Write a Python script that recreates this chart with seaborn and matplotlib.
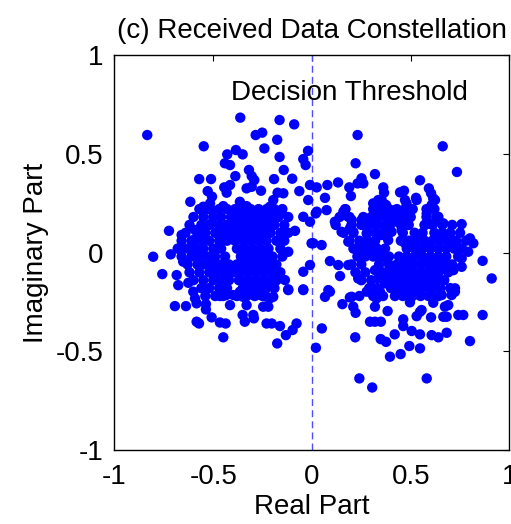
import matplotlib
matplotlib.use("Agg")
import matplotlib.pyplot as plt
import seaborn as sns
import pandas as pd

# ---- scattered / outline samples (real, imag) ----
outline_re = [
    -0.834, -0.363, -0.164, -0.090, -0.285, -0.252, -0.548, -0.176, -0.241, -0.385,
    -0.351, -0.429, -0.020, -0.164, -0.044, -0.032, -0.441, -0.415, -0.319, -0.143,
    -0.388, -0.305, -0.292, -0.571, -0.511, -0.192, -0.100, -0.010, -0.444, -0.415,
    -0.432, -0.528, -0.506, -0.331, -0.305, -0.258, -0.174, -0.145, -0.064, -0.616,
    -0.550, -0.516, -0.449, -0.365, -0.331, -0.196, -0.213, -0.019, -0.542, -0.508,
    -0.724, -0.660, -0.592, -0.601, -0.804, -0.715, -0.668, -0.652, -0.758, -0.685,
    -0.677, -0.626, -0.601, -0.508, -0.086, -0.044, -0.010, -0.153, -0.002, -0.120,
    -0.044, -0.010, -0.044, -0.120, -0.179, -0.137, -0.694, -0.638, -0.592, -0.584,
    -0.537, -0.537, -0.584, -0.572, -0.508, -0.466, -0.437, -0.449, -0.466, -0.434,
    -0.415, -0.398, -0.365, -0.331, -0.349, -0.351, -0.340, -0.297, -0.294, -0.280,
    -0.255, -0.230, -0.213, -0.196, -0.247, -0.221, -0.230, -0.204, -0.162, -0.078,
    -0.098, -0.132, -0.176, -0.120, -0.044,
    0.024, 0.019, 0.231, 0.662, 0.221, 0.734, 0.319, 0.251, 0.260, 0.231,
    0.547, 0.132, 0.078, 0.189, 0.197, 0.361, 0.365, 0.446, 0.466, 0.471,
    0.592, 0.603, 0.614, 0.527, 0.066, 0.336, 0.375, 0.344, 0.167, 0.074,
    0.024, 0.159, 0.184, 0.201, 0.116, 0.150, 0.192, 0.209, 0.251, 0.294,
    0.310, 0.353, 0.344, 0.378, 0.403, 0.420, 0.454, 0.479, 0.488, 0.530,
    0.446, 0.479, 0.454, 0.581, 0.606, 0.623, 0.640, 0.665, 0.758, 0.572,
    0.614, 0.555, 0.572, 0.657, 0.699, 0.716, 0.733, 0.800, 0.817, 0.791,
    0.758, 0.864, 0.910, 0.758, 0.716, 0.665, 0.631, 0.614, 0.648, 0.572,
    0.547, 0.513, 0.471, 0.462, 0.496, 0.437, 0.446, 0.479, 0.429, 0.513,
    0.547, 0.589, 0.640, 0.631, 0.353, 0.386, 0.403, 0.277, 0.285, 0.243,
    0.251, 0.294, 0.327, 0.378, 0.184, 0.007, 0.049, 0.091, 0.133, 0.184,
    0.142, 0.234, 0.319, 0.336, 0.353, 0.370, 0.302, 0.344, 0.327, 0.395,
    0.437, 0.479, 0.530, 0.496, 0.606, 0.657, 0.724, 0.277, 0.083, 0.066,
    0.201, 0.020, 0.050, 0.091, 0.154, 0.192, 0.209, 0.221, 0.319, 0.341,
    0.294, 0.319, 0.349, 0.383, 0.219, 0.348, 0.375, 0.419, 0.395, 0.449,
    0.462, 0.462, 0.493, 0.547, 0.505, 0.547, 0.606, 0.640, 0.682, 0.496,
    0.513, 0.538, 0.530, 0.547, 0.555, 0.603, 0.603, 0.614, 0.707, 0.724,
    0.673, 0.690, 0.665, 0.682, 0.741, 0.766, 0.864, 0.800, 0.240, 0.305,
    0.581,
]
outline_im = [
    0.595, 0.683, 0.671, 0.649, 0.595, 0.607, 0.538, 0.571, 0.527, 0.519,
    0.497, 0.497, 0.515, 0.484, 0.473, 0.443, 0.452, 0.443, 0.418, 0.418,
    0.387, 0.387, 0.367, 0.372, 0.372, 0.372, 0.374, 0.342, 0.330, 0.342,
    0.303, 0.311, 0.283, 0.325, 0.333, 0.313, 0.303, 0.300, 0.311, 0.257,
    0.232, 0.249, 0.235, 0.257, 0.235, 0.266, 0.232, 0.266, 0.224, 0.215,
    0.110, 0.089, 0.114, 0.063, -0.021, -0.009, 0.021, -0.046, -0.109, -0.114,
    -0.165, -0.153, -0.198, 0.148, 0.110, 0.181, 0.156, 0.198, 0.047, 0.004,
    -0.097, -0.063, -0.186, -0.186, -0.139, -0.139, -0.271, -0.271, -0.232, -0.257,
    -0.261, -0.288, -0.350, -0.359, -0.328, -0.354, -0.359, -0.429, -0.220, -0.215,
    -0.266, -0.215, -0.198, -0.266, -0.224, -0.316, -0.350, -0.316, -0.333, -0.215,
    -0.190, -0.224, -0.232, -0.224, -0.274, -0.274, -0.359, -0.359, -0.372, -0.359,
    -0.392, -0.418, -0.460, -0.190, -0.190,
    0.330, 0.198, 0.595, 0.538, 0.452, 0.408, 0.397, 0.376, 0.350, 0.350,
    0.366, 0.355, 0.342, 0.330, 0.286, 0.330, 0.303, 0.305, 0.313, 0.266,
    0.325, 0.300, 0.274, 0.277, 0.277, 0.266, 0.241, 0.232, 0.219, 0.215,
    0.207, 0.207, 0.181, 0.165, 0.156, 0.105, 0.122, 0.105, 0.165, 0.173,
    0.249, 0.266, 0.190, 0.181, 0.148, 0.215, 0.198, 0.249, 0.190, 0.266,
    0.165, 0.139, 0.114, 0.198, 0.241, 0.266, 0.181, 0.148, 0.144, 0.139,
    0.148, 0.089, 0.055, 0.080, 0.097, 0.055, 0.038, 0.072, 0.047, 0.004,
    -0.029, -0.042, -0.131, -0.072, -0.089, -0.038, -0.029, -0.072, -0.089, -0.038,
    0.004, 0.047, 0.047, -0.038, -0.055, -0.072, -0.097, -0.114, -0.139, -0.105,
    -0.114, -0.122, -0.131, -0.173, 0.089, 0.063, 0.105, 0.097, 0.047, 0.047,
    -0.013, -0.004, -0.004, -0.029, 0.055, 0.047, 0.038, -0.043, -0.063, -0.063,
    -0.119, -0.131, -0.089, -0.131, -0.114, -0.156, -0.181, -0.198, -0.232, -0.148,
    -0.181, -0.215, -0.207, -0.198, -0.215, -0.215, -0.181, -0.198, -0.190, -0.224,
    -0.224, -0.482, -0.384, -0.198, -0.261, -0.227, -0.274, -0.305, -0.274, -0.215,
    -0.350, -0.350, -0.350, -0.296, -0.429, -0.438, -0.452, -0.414, -0.527, -0.514,
    -0.338, -0.372, -0.473, -0.485, -0.397, -0.414, -0.418, -0.429, -0.406, -0.252,
    -0.198, -0.190, -0.322, -0.300, -0.291, -0.328, -0.220, -0.254, -0.215, -0.198,
    -0.274, -0.266, -0.325, -0.325, -0.316, -0.316, -0.316, -0.448, -0.637, -0.683,
    -0.637,
]

# ---- dense core samples, row by row (imag value, real values) ----
core_rows_im = [0.22, 0.18, 0.14, 0.10, 0.06, 0.02, -0.02, -0.06, -0.10, -0.14, -0.18, -0.22]
core_rows_re = [
    [-0.57, -0.53, -0.47, -0.43, -0.39, -0.35, -0.31, -0.27, -0.23, -0.19, -0.15,
     0.17, 0.31, 0.35, 0.39, 0.43, 0.47, 0.51, 0.58, 0.62],
    [-0.60, -0.55, -0.50, -0.46, -0.41, -0.37, -0.33, -0.29, -0.25, -0.21, -0.17, -0.12,
     0.14, 0.19, 0.26, 0.30, 0.34, 0.38, 0.42, 0.46, 0.50, 0.58, 0.63],
    [-0.62, -0.56, -0.52, -0.47, -0.43, -0.39, -0.35, -0.31, -0.27, -0.23, -0.19, -0.14,
     0.12, 0.20, 0.25, 0.29, 0.33, 0.37, 0.45, 0.49, 0.57, 0.61, 0.66, 0.71],
    [-0.64, -0.58, -0.54, -0.49, -0.45, -0.41, -0.37, -0.33, -0.29, -0.25, -0.21, -0.16, -0.12,
     0.16, 0.21, 0.28, 0.32, 0.36, 0.46, 0.52, 0.56, 0.62, 0.66, 0.70, 0.75],
    [-0.66, -0.61, -0.56, -0.52, -0.47, -0.43, -0.39, -0.35, -0.31, -0.27, -0.23, -0.18, -0.14,
     0.19, 0.24, 0.28, 0.32, 0.45, 0.49, 0.53, 0.57, 0.61, 0.65, 0.69, 0.73, 0.78],
    [-0.68, -0.63, -0.59, -0.55, -0.50, -0.46, -0.38, -0.34, -0.30, -0.26, -0.22, -0.16,
     0.21, 0.25, 0.29, 0.33, 0.37, 0.48, 0.52, 0.56, 0.60, 0.64, 0.68, 0.72, 0.76],
    [-0.66, -0.61, -0.57, -0.53, -0.49, -0.44, -0.36, -0.32, -0.28, -0.24, -0.20, -0.15,
     0.23, 0.27, 0.31, 0.35, 0.39, 0.44, 0.48, 0.52, 0.56, 0.60, 0.64, 0.68, 0.74],
    [-0.63, -0.58, -0.54, -0.50, -0.46, -0.42, -0.38, -0.34, -0.30, -0.26, -0.22, -0.18,
     0.20, 0.25, 0.34, 0.39, 0.43, 0.47, 0.51, 0.55, 0.59, 0.63, 0.67, 0.71],
    [-0.62, -0.57, -0.52, -0.48, -0.44, -0.40, -0.36, -0.32, -0.28, -0.24, -0.20, -0.16,
     0.22, 0.27, 0.36, 0.40, 0.44, 0.48, 0.52, 0.56, 0.60, 0.64, 0.69],
    [-0.60, -0.55, -0.50, -0.46, -0.42, -0.37, -0.33, -0.29, -0.25, -0.21, -0.18,
     0.25, 0.30, 0.38, 0.42, 0.46, 0.50, 0.54, 0.58, 0.62, 0.67],
    [-0.56, -0.52, -0.47, -0.43, -0.35, -0.31, -0.27, -0.23, -0.19,
     0.29, 0.33, 0.40, 0.44, 0.48, 0.52, 0.56, 0.60, 0.65, 0.70],
    [-0.54, -0.49, -0.45, -0.38, -0.33, -0.29, -0.25,
     0.24, 0.31, 0.36, 0.42, 0.46, 0.51, 0.55, 0.59, 0.64],
]

x_ticks = [-1, -0.5, 0, 0.5, 1]
y_ticks = [-1, -0.5, 0, 0.5, 1]
x_tick_labels = ["-1", "-0.5", "0", "0.5", "1"]
y_tick_labels = ["-1", "-0.5", "0", "0.5", "1"]

re_all = list(outline_re)
im_all = list(outline_im)
for yv, xs in zip(core_rows_im, core_rows_re):
    re_all.extend(xs)
    im_all.extend([yv] * len(xs))
df = pd.DataFrame({"Real": re_all, "Imag": im_all})

sns.set_style("white")
plt.rcParams["font.family"] = ["Liberation Sans", "DejaVu Sans"]
plt.rcParams["text.color"] = "black"
plt.rcParams["axes.labelcolor"] = "black"
plt.rcParams["xtick.color"] = "black"
plt.rcParams["ytick.color"] = "black"

fig = plt.figure(figsize=(5.11, 5.24), dpi=100)
ax = fig.add_axes([0.224, 0.141, 0.773, 0.754])

sns.scatterplot(data=df, x="Real", y="Imag", ax=ax, color="#0000ff",
                s=56, linewidth=0, edgecolor="none", legend=False, zorder=3)

ax.axvline(0, color="#4d4dff", linestyle=(0, (5, 3)), linewidth=1.0, zorder=2)
ax.text(-0.41, 0.81, "Decision Threshold", ha="left", va="center", fontsize=20)

ax.set_xlim(-1, 1)
ax.set_ylim(-1, 1)
ax.set_xticks(x_ticks)
ax.set_xticklabels(x_tick_labels)
ax.set_yticks(y_ticks)
ax.set_yticklabels(y_tick_labels)
ax.tick_params(direction="in", length=4, width=0.8, labelsize=20, top=True, right=True,
               color="black")
ax.tick_params(axis="x", pad=10)
ax.tick_params(axis="y", pad=8)
for sp in ax.spines.values():
    sp.set_visible(True)
    sp.set_color("black")
    sp.set_linewidth(1.0)

ax.set_xlabel("Real Part", fontsize=20, labelpad=3)
ax.set_ylabel("Imaginary Part", fontsize=20, labelpad=5)
ax.set_title("(c) Received Data Constellation", fontsize=20, pad=12)

fig.savefig("out.png", dpi=100)
